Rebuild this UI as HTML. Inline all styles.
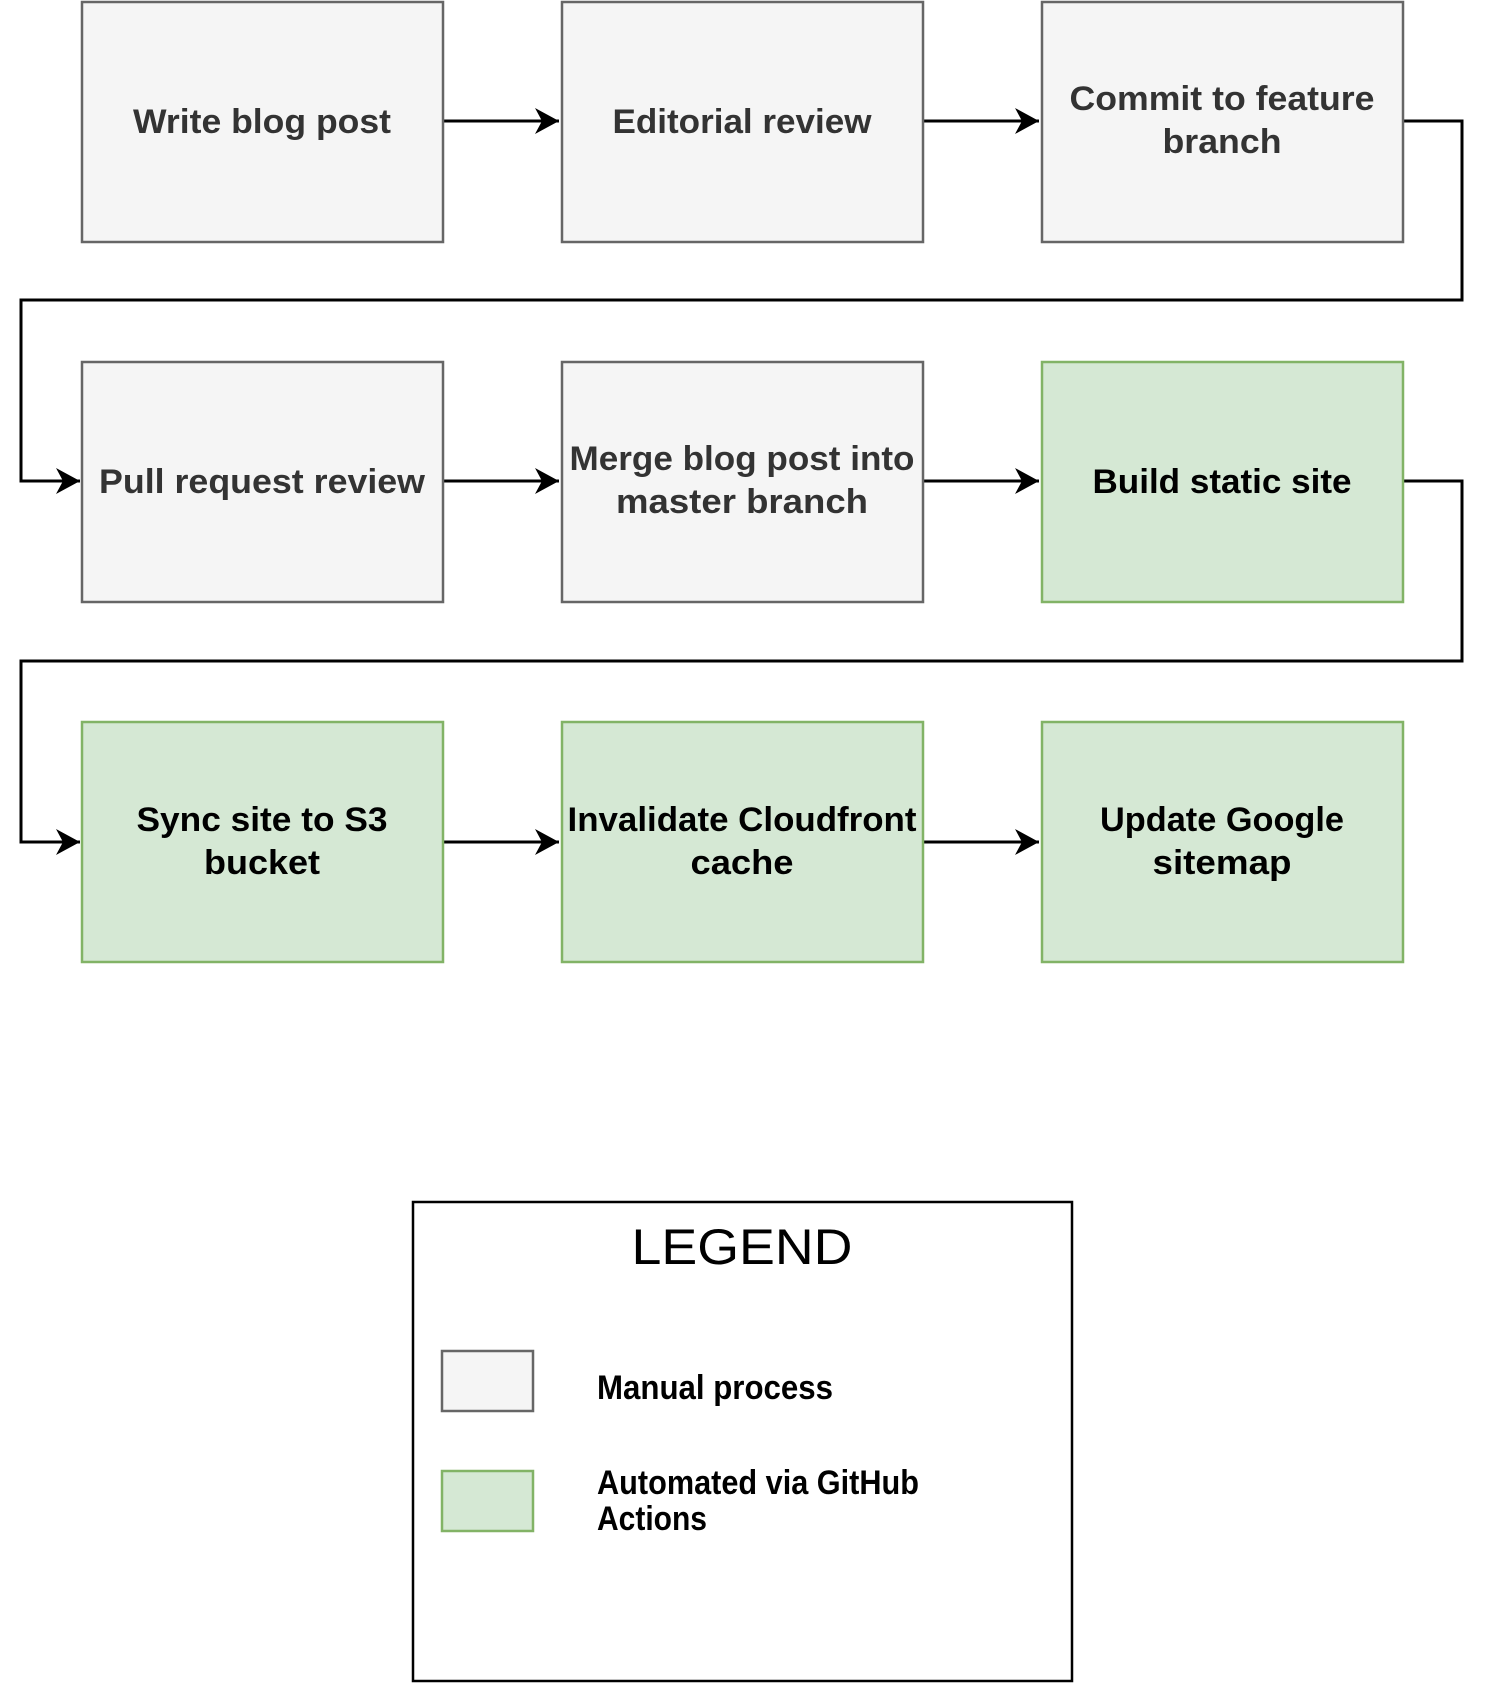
<!DOCTYPE html>
<html><head><meta charset="utf-8"><style>
html,body{margin:0;padding:0;background:#fff;}
svg{display:block;}
text{font-family:"Liberation Sans",Arial,sans-serif;font-weight:bold;font-size:34px;}
</style></head><body>
<svg width="1488" height="1683" viewBox="0 0 1488 1683" xmlns="http://www.w3.org/2000/svg">
<defs>
<marker id="a" markerWidth="26" markerHeight="26" refX="24" refY="13" orient="auto" markerUnits="userSpaceOnUse">
<path d="M0,0 L24,13 L0,26 L7,13 Z" fill="#000"/>
</marker>
</defs>
<g fill="none" stroke="#000" stroke-width="3">
<path d="M443,121 H559" marker-end="url(#a)"/>
<path d="M923,121 H1039" marker-end="url(#a)"/>
<path d="M1403,121 H1462 V300 H21 V481 H80" marker-end="url(#a)"/>
<path d="M443,481 H559" marker-end="url(#a)"/>
<path d="M923,481 H1039" marker-end="url(#a)"/>
<path d="M1403,481 H1462 V661 H21 V842 H80" marker-end="url(#a)"/>
<path d="M443,842 H559" marker-end="url(#a)"/>
<path d="M923,842 H1039" marker-end="url(#a)"/>
</g>
<g stroke-width="2.5">
<rect x="82" y="2" width="361" height="240" fill="#f5f5f5" stroke="#666"/>
<rect x="562" y="2" width="361" height="240" fill="#f5f5f5" stroke="#666"/>
<rect x="1042" y="2" width="361" height="240" fill="#f5f5f5" stroke="#666"/>
<rect x="82" y="362" width="361" height="240" fill="#f5f5f5" stroke="#666"/>
<rect x="562" y="362" width="361" height="240" fill="#f5f5f5" stroke="#666"/>
<rect x="1042" y="362" width="361" height="240" fill="#d5e8d4" stroke="#82b366"/>
<rect x="82" y="722" width="361" height="240" fill="#d5e8d4" stroke="#82b366"/>
<rect x="562" y="722" width="361" height="240" fill="#d5e8d4" stroke="#82b366"/>
<rect x="1042" y="722" width="361" height="240" fill="#d5e8d4" stroke="#82b366"/>
</g>
<g text-anchor="middle" fill="#333">
<text x="262" y="133" textLength="258" lengthAdjust="spacingAndGlyphs">Write blog post</text>
<text x="742" y="133" textLength="259" lengthAdjust="spacingAndGlyphs">Editorial review</text>
<text x="1222" y="110" textLength="305" lengthAdjust="spacingAndGlyphs">Commit to feature</text>
<text x="1222" y="153" textLength="119" lengthAdjust="spacingAndGlyphs">branch</text>
<text x="262" y="493" textLength="326" lengthAdjust="spacingAndGlyphs">Pull request review</text>
<text x="742" y="470" textLength="345" lengthAdjust="spacingAndGlyphs">Merge blog post into</text>
<text x="742" y="513" textLength="252" lengthAdjust="spacingAndGlyphs">master branch</text>
</g>
<g text-anchor="middle" fill="#000">
<text x="1222" y="493" textLength="259" lengthAdjust="spacingAndGlyphs">Build static site</text>
<text x="262" y="831" textLength="251" lengthAdjust="spacingAndGlyphs">Sync site to S3</text>
<text x="262" y="874" textLength="116" lengthAdjust="spacingAndGlyphs">bucket</text>
<text x="742" y="831" textLength="349" lengthAdjust="spacingAndGlyphs">Invalidate Cloudfront</text>
<text x="742" y="874" textLength="103" lengthAdjust="spacingAndGlyphs">cache</text>
<text x="1222" y="831" textLength="244" lengthAdjust="spacingAndGlyphs">Update Google</text>
<text x="1222" y="874" textLength="139" lengthAdjust="spacingAndGlyphs">sitemap</text>
</g>
<rect x="413" y="1202" width="659" height="479" fill="#fff" stroke="#000" stroke-width="2.5"/>
<text x="742" y="1264" text-anchor="middle" style="font-weight:normal;font-size:50px" textLength="221" lengthAdjust="spacingAndGlyphs">LEGEND</text>
<rect x="442" y="1351" width="91" height="60" fill="#f5f5f5" stroke="#666" stroke-width="2.5"/>
<rect x="442" y="1471" width="91" height="60" fill="#d5e8d4" stroke="#82b366" stroke-width="2.5"/>
<g style="font-size:28px" fill="#000">
<text x="597" y="1399" textLength="236" lengthAdjust="spacingAndGlyphs">Manual process</text>
<text x="597" y="1494" textLength="322" lengthAdjust="spacingAndGlyphs">Automated via GitHub</text>
<text x="597" y="1530" textLength="110" lengthAdjust="spacingAndGlyphs">Actions</text>
</g>
</svg>
</body></html>
